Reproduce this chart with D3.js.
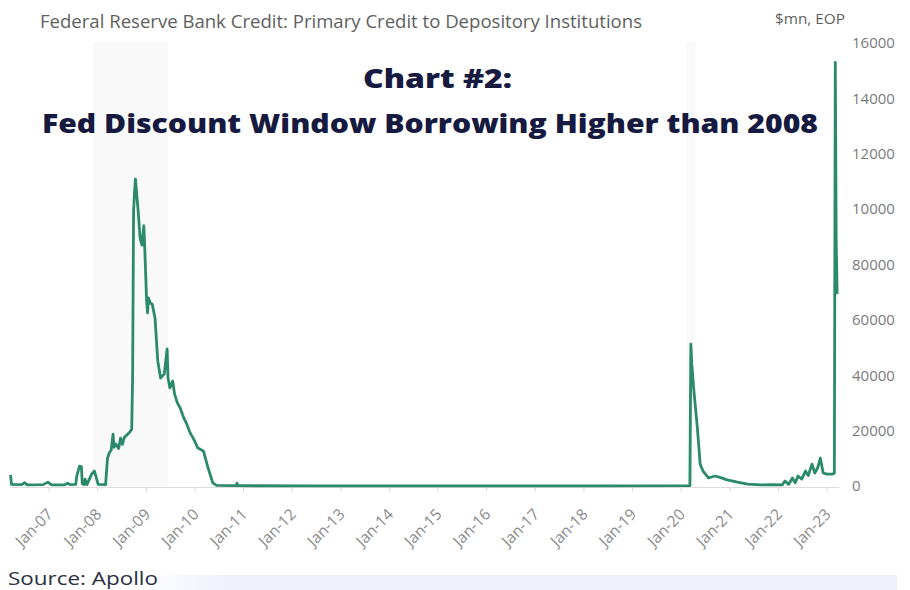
<!DOCTYPE html>
<html>
<head>
<meta charset="utf-8">
<script src="https://cdn.jsdelivr.net/npm/d3@7"></script>
<style>
    body { margin: 0; background: #fff; }
    svg { display: block; }
</style>
</head>
<body>
<div id="chart"></div>
<script>
// weekly points ($mn)
const creditDates = [
    "2006-03-22", "2006-03-29", "2006-06-14", "2006-07-05", "2006-07-26", "2006-11-22", "2006-12-27",
    "2007-01-24", "2007-05-02", "2007-05-23", "2007-06-13", "2007-07-25", "2007-08-01", "2007-08-22",
    "2007-09-05", "2007-09-12", "2007-09-26", "2007-10-03", "2007-10-17", "2007-11-21", "2007-12-12",
    "2007-12-26", "2008-01-09", "2008-03-05", "2008-03-19", "2008-04-02", "2008-04-16", "2008-04-30",
    "2008-05-07", "2008-05-21", "2008-06-11", "2008-06-25", "2008-07-09", "2008-07-23", "2008-08-13",
    "2008-09-03", "2008-09-17", "2008-09-24", "2008-10-01", "2008-10-08", "2008-10-15", "2008-11-05",
    "2008-11-19", "2008-12-03", "2008-12-17", "2008-12-24", "2009-01-07", "2009-01-14", "2009-01-21",
    "2009-02-04", "2009-02-18", "2009-03-11", "2009-04-01", "2009-04-22", "2009-05-20", "2009-06-10",
    "2009-06-17", "2009-07-01", "2009-07-22", "2009-08-05", "2009-08-26", "2009-09-16", "2009-10-14",
    "2009-11-04", "2009-12-02", "2009-12-23", "2010-01-27", "2010-02-17", "2010-03-10", "2010-04-14",
    "2010-05-19", "2010-06-16", "2010-11-10", "2010-11-17", "2010-11-24", "2012-06-06", "2014-06-04",
    "2016-06-01", "2018-06-06", "2020-03-11", "2020-03-18", "2020-03-25", "2020-04-08", "2020-05-06",
    "2020-05-27", "2020-06-17", "2020-07-29", "2020-09-16", "2020-10-28", "2020-12-16", "2021-03-03",
    "2021-05-19", "2021-08-25", "2021-11-24", "2022-02-02", "2022-02-23", "2022-03-23", "2022-04-20",
    "2022-05-11", "2022-06-01", "2022-06-29", "2022-07-27", "2022-08-17", "2022-09-14", "2022-10-05",
    "2022-10-26", "2022-11-16", "2022-12-07", "2023-01-04", "2023-02-15", "2023-03-01", "2023-03-08",
    "2023-03-15", "2023-03-22"
];
const creditValues = [
    4000, 600, 500, 1200, 400, 500, 1400,
    400, 400, 1000, 500, 600, 3600, 7200,
    7000, 800, 500, 2500, 500, 4300, 5400,
    3000, 600, 500, 10000, 12000, 13000, 18700,
    14000, 15200, 13500, 17300, 15000, 17500, 18500,
    19500, 20500, 40000, 99000, 106000, 110800, 99000,
    89500, 87000, 94000, 86000, 66800, 62500, 67900,
    66000, 65700, 60700, 45100, 39000, 40500, 49500,
    39000, 35400, 37900, 33200, 30000, 28200, 24500,
    22400, 19000, 17300, 13700, 13200, 12600, 6500,
    1100, 200, 150, 1000, 100, 80, 60,
    50, 40, 100, 51200, 44000, 35400, 21000,
    7900, 5400, 2900, 3600, 3000, 2200, 1400,
    700, 400, 500, 400, 1800, 600, 2900,
    1200, 3600, 2500, 5400, 3800, 7900, 4700,
    6500, 10100, 4700, 4300, 4300, 4600, 153000,
    88000, 69300
];

// shaded recession bands
const bandStarts = ["2007-12-01", "2020-02-10"];
const bandEnds = ["2009-06-15", "2020-04-20"];

const xTickYears = d3.range(2007, 2024);
const yTickValues = [0, 20000, 40000, 60000, 80000, 100000, 120000, 140000, 160000];

const width = 910, height = 590;
const parse = d3.timeParse("%Y-%m-%d");
const lineColor = "#2b8a6b";

function drawChart() {
    const svg = d3.select("#chart").append("svg")
        .attr("width", width)
        .attr("height", height);

    const data = creditDates.map((d, i) => ({ date: parse(d), value: creditValues[i] }));

    const xScale = d3.scaleTime()
        .domain([new Date(2007, 0, 1), new Date(2023, 0, 1)])
        .range([48.5, 826.5]);

    const yScale = d3.scaleLinear()
        .domain([0, 160000])
        .range([486, 43]);

    // recession shading, very faint
    svg.selectAll(".band")
        .data(bandStarts)
        .enter().append("rect")
        .attr("class", "band")
        .attr("x", d => xScale(parse(d)))
        .attr("y", 42)
        .attr("width", (d, i) => xScale(parse(bandEnds[i])) - xScale(parse(d)))
        .attr("height", yScale(0) - 42)
        .attr("fill", "#f9f9f9");

    // baseline
    svg.append("line")
        .attr("x1", xScale(data[0].date))
        .attr("x2", xScale(data[data.length - 1].date) + 2)
        .attr("y1", yScale(0) + 1.5)
        .attr("y2", yScale(0) + 1.5)
        .attr("stroke", "#dcdcdc")
        .attr("stroke-width", 1);

    // x axis
    const xAxis = d3.axisBottom(xScale)
        .tickValues(xTickYears.map(y => new Date(y, 0, 1)))
        .tickSize(4)
        .tickFormat(d3.timeFormat("Jan-%y"));

    const xg = svg.append("g")
        .attr("transform", `translate(0,${yScale(0) + 1.5})`)
        .call(xAxis);
    xg.select(".domain").remove();
    xg.selectAll(".tick line").attr("stroke", "#d6d6d6");
    xg.selectAll(".tick text")
        .attr("font-family", "Open Sans, sans-serif")
        .attr("font-size", 15.5)
        .attr("fill", "#8a8a8a")
        .attr("text-anchor", "end")
        .attr("dy", "0.35em")
        .attr("y", 0)
        .attr("transform", "translate(1,24) rotate(-45)");

    // y axis on right, labels clipped to 5 characters like the source
    const yAxis = d3.axisRight(yScale)
        .tickValues(yTickValues)
        .tickSize(0)
        .tickPadding(0)
        .tickFormat(d => String(d).slice(0, 5));

    const yg = svg.append("g")
        .attr("transform", "translate(852,0)")
        .call(yAxis);
    yg.select(".domain").remove();
    yg.selectAll(".tick text")
        .attr("font-family", "Open Sans, sans-serif")
        .attr("font-size", 15)
        .attr("fill", "#7a7a7a");

    // series line
    const creditLine = d3.line()
        .x(d => xScale(d.date))
        .y(d => yScale(d.value));

    svg.append("path")
        .datum(data)
        .attr("fill", "none")
        .attr("stroke", lineColor)
        .attr("stroke-width", 2.8)
        .attr("stroke-linejoin", "round")
        .attr("d", creditLine);

    // titles
    svg.append("text")
        .attr("x", 40)
        .attr("y", 28)
        .attr("font-family", "Open Sans, sans-serif")
        .attr("font-size", 18)
        .attr("fill", "#5f5f5f")
        .attr("textLength", 602)
        .attr("lengthAdjust", "spacingAndGlyphs")
        .text("Federal Reserve Bank Credit: Primary Credit to Depository Institutions");

    svg.append("text")
        .attr("x", 775)
        .attr("y", 24)
        .attr("font-family", "Open Sans, sans-serif")
        .attr("font-size", 14)
        .attr("fill", "#5f5f5f")
        .attr("textLength", 70)
        .attr("lengthAdjust", "spacingAndGlyphs")
        .text("$mn, EOP");

    svg.append("text")
        .attr("x", 363)
        .attr("y", 88)
        .attr("font-family", "Open Sans, sans-serif")
        .attr("font-weight", 800)
        .attr("font-size", 26)
        .attr("fill", "#161a40")
        .attr("textLength", 149)
        .attr("lengthAdjust", "spacingAndGlyphs")
        .text("Chart #2:");

    svg.append("text")
        .attr("x", 42)
        .attr("y", 133)
        .attr("font-family", "Open Sans, sans-serif")
        .attr("font-weight", 800)
        .attr("font-size", 26)
        .attr("fill", "#161a40")
        .attr("textLength", 776)
        .attr("lengthAdjust", "spacingAndGlyphs")
        .text("Fed Discount Window Borrowing Higher than 2008");

    // footer strip
    const grad = svg.append("defs").append("linearGradient")
        .attr("id", "footGrad");
    grad.append("stop").attr("offset", "0%").attr("stop-color", "#ffffff");
    grad.append("stop").attr("offset", "15%").attr("stop-color", "#ffffff");
    grad.append("stop").attr("offset", "25%").attr("stop-color", "#eff2fb");
    grad.append("stop").attr("offset", "100%").attr("stop-color", "#eff2fb");

    svg.append("rect")
        .attr("x", 0)
        .attr("y", 575)
        .attr("width", 897)
        .attr("height", 15)
        .attr("fill", "url(#footGrad)");

    svg.append("text")
        .attr("x", 8)
        .attr("y", 585)
        .attr("font-family", "Open Sans, sans-serif")
        .attr("font-size", 18)
        .attr("fill", "#2b3045")
        .attr("textLength", 150)
        .attr("lengthAdjust", "spacingAndGlyphs")
        .text("Source: Apollo");
}

drawChart();
</script>
</body>
</html>
